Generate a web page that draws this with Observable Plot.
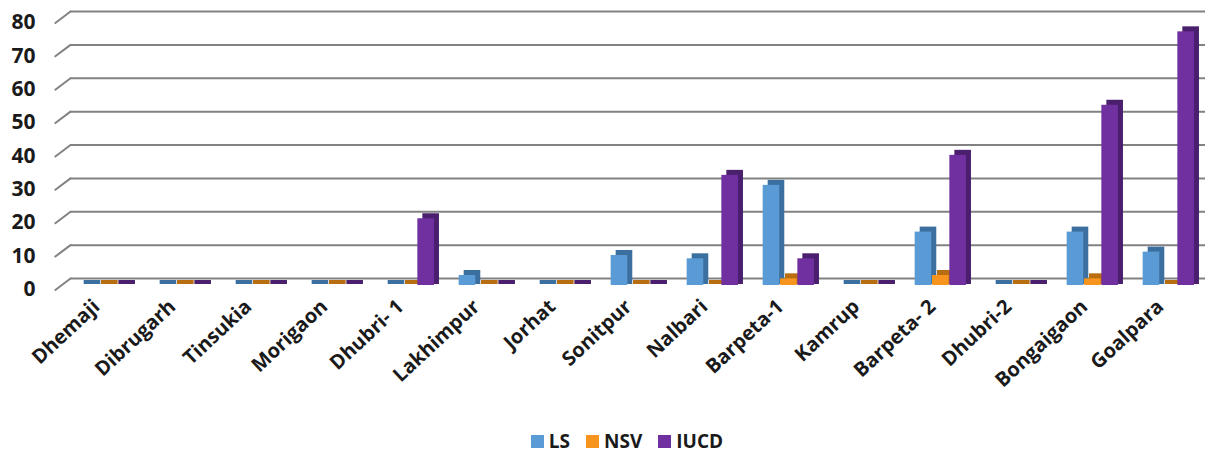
<!DOCTYPE html>
<html>
<head>
<meta charset="utf-8">
<script src="https://cdn.jsdelivr.net/npm/d3@7"></script>
<script src="https://cdn.jsdelivr.net/npm/@observablehq/plot@0.6"></script>
<style>
  html, body { margin: 0; padding: 0; background: #ffffff; }
  body { width: 1210px; height: 452px; overflow: hidden; font-family: "Open Sans", "DejaVu Sans", sans-serif; }
  #chart svg { display: block; font-family: "Open Sans", "DejaVu Sans", sans-serif; color: #1a1a1a; }
  #legend { display: flex; justify-content: center; align-items: center; gap: 16px; height: 42px; padding-left: 44px; box-sizing: border-box; padding-top: 20px;
            font-weight: 700; font-size: 19px; color: #1a1a1a; }
  #legend .item { display: flex; align-items: center; gap: 5px; }
  #legend .sw { width: 13px; height: 13px; display: inline-block; }
</style>
</head>
<body>
<div id="chart"></div>
<div id="legend"></div>
<script>
const districts = ["Dhemaji","Dibrugarh","Tinsukia","Morigaon","Dhubri- 1","Lakhimpur","Jorhat","Sonitpur","Nalbari","Barpeta-1","Kamrup","Barpeta- 2","Dhubri-2","Bongaigaon","Goalpara"];
const lsValues   = [0,0,0,0,0,3,0,9,8,30,0,16,0,16,10];
const nsvValues  = [0,0,0,0,0,0,0,0,0,2,0,3,0,2,0];
const iucdValues = [0,0,0,0,20,0,0,0,33,8,0,39,0,54,76];
const seriesNames = ["LS","NSV","IUCD"];
const seriesColors = ["#5b9bd5","#f7941d","#7030a0"];
const sideColors = ["#3b6f9f","#b86e10","#4a1f6d"];
const yTicks = [0,10,20,30,40,50,60,70,80];

const allValues = [lsValues, nsvValues, iucdValues];
const rows = [];
districts.forEach((d, i) => {
  seriesNames.forEach((s, j) => rows.push({district: d, series: s, value: allValues[j][i], k: j}));
});

const W = 1210, H = 410;
const xRange = [65, 1216];
const step = (xRange[1] - xRange[0]) / districts.length;
const barFrac = 0.226, offFrac = 0.1;

const barMarks = [];
seriesNames.forEach((s, j) => {
  const inL = step * (offFrac + j * barFrac);
  const inR = step - inL - step * barFrac;
  const data = rows.filter(r => r.series === s);
  barMarks.push(Plot.barY(data, {x: "district", y: "value", fill: sideColors[j], insetLeft: inL, insetRight: inR, insetBottom: -4, dx: 5, dy: -5}));
  barMarks.push(Plot.barY(data, {x: "district", y: "value", fill: seriesColors[j], insetLeft: inL, insetRight: inR}));
});

const lineShape = { draw(context, l) { context.moveTo(0, 0); context.lineTo(0, -l); } };

const chart = Plot.plot({
  width: W,
  height: H,
  marginLeft: 70,
  marginRight: 5,
  marginTop: 18,
  marginBottom: 125,
  style: {background: "#ffffff", fontFamily: "'Open Sans', 'DejaVu Sans', sans-serif"},
  x: {domain: districts, range: xRange, padding: 0, axis: null},
  y: {domain: [0, 80], axis: null},
  marks: [
    Plot.ruleY(yTicks, {dy: -7, stroke: "#828282", strokeWidth: 2}),
    Plot.vector(yTicks, {y: d => d, frameAnchor: "left", anchor: "end", dy: -7, length: 19, rotate: 53, stroke: "#828282", strokeWidth: 2, shape: lineShape}),
    ...barMarks,
    Plot.axisY({ticks: yTicks, label: null, tickSize: 0, tickPadding: 35, dy: 4, fontSize: 21, fontWeight: 700, tickFormat: d => String(d), fill: "#1a1a1a"}),
    Plot.axisX({label: null, tickRotate: -43, tickSize: 0, tickPadding: 18, dx: -13, fontSize: 20, fontWeight: 700, fill: "#1a1a1a"})
  ]
});
document.getElementById("chart").appendChild(chart);

const legend = document.getElementById("legend");
seriesNames.forEach((s, j) => {
  const item = document.createElement("div");
  item.className = "item";
  const sw = document.createElement("span");
  sw.className = "sw";
  sw.style.background = seriesColors[j];
  const t = document.createElement("span");
  t.textContent = s;
  item.appendChild(sw); item.appendChild(t);
  legend.appendChild(item);
});
</script>
</body>
</html>
